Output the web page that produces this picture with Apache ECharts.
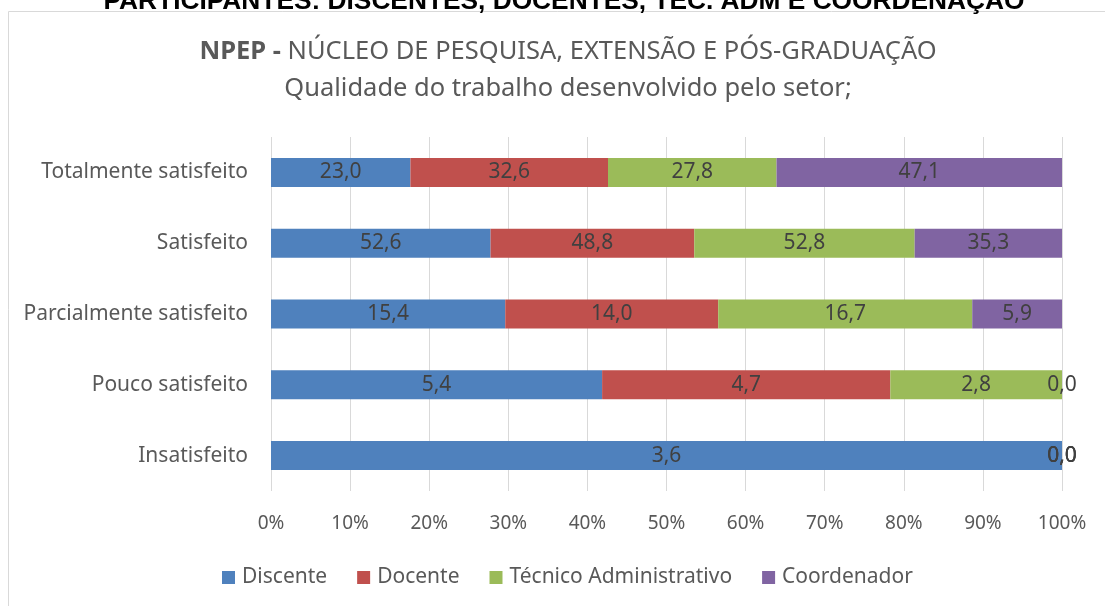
<!DOCTYPE html>
<html>
<head>
<meta charset="utf-8">
<script src="https://cdn.jsdelivr.net/npm/echarts@6/dist/echarts.min.js"></script>
<style>
  html, body { margin: 0; padding: 0; background: #fff; }
  #chart { width: 1105px; height: 606px; }
</style>
</head>
<body>
<div id="chart"></div>
<script>
const categories = ['Totalmente satisfeito', 'Satisfeito', 'Parcialmente satisfeito', 'Pouco satisfeito', 'Insatisfeito']
const seriesNames = ['Discente', 'Docente', 'Técnico Administrativo', 'Coordenador']
const discente = [23.0, 52.6, 15.4, 5.4, 3.6]
const docente = [32.6, 48.8, 14.0, 4.7, 0.0]
const tecnico = [27.8, 52.8, 16.7, 2.8, 0.0]
const coordenador = [47.1, 35.3, 5.9, 0.0, 0.0]
const tickLabels = ['0%', '10%', '20%', '30%', '40%', '50%', '60%', '70%', '80%', '90%', '100%']

const colors = ['#4f81bd', '#c0504d', '#9bbb59', '#8064a2']
const font = 'Noto Sans'
const raw = [discente, docente, tecnico, coordenador]

// totals per category, bars are drawn as share of the row (100% stacked)
const totals = categories.map((_, i) => raw.reduce((s, arr) => s + arr[i], 0))

const chart = echarts.init(document.getElementById('chart'))

chart.setOption({
  animation: false,
  textStyle: { fontFamily: font },
  graphic: [
    {
      type: 'rect',
      shape: { x: 8.5, y: 11.5, width: 1120, height: 620 },
      style: { fill: 'none', stroke: '#d9d9d9', lineWidth: 1 },
    },
    {
      type: 'text',
      x: 564,
      y: 15,
      style: {
        text: 'PARTICIPANTES: DISCENTES, DOCENTES, TEC. ADM E COORDENAÇÃO',
        font: 'bold 26.3px "Liberation Sans"',
        fill: '#000',
        align: 'center',
        verticalAlign: 'bottom',
      },
    },
  ],
  title: {
    left: 563,
    textAlign: 'center',
    top: 28,
    text: '{b|NPEP -} NÚCLEO DE PESQUISA, EXTENSÃO E PÓS-GRADUAÇÃO\nQualidade do trabalho desenvolvido pelo setor;',
    textStyle: {
      fontFamily: font,
      fontSize: 25.5,
      fontWeight: 'normal',
      color: '#595959',
      lineHeight: 37,
      rich: {
        b: { fontFamily: font, fontSize: 25.5, fontWeight: 'bold', color: '#595959', lineHeight: 37 },
      },
    },
  },
  legend: {
    left: 222,
    top: 567,
    padding: 0,
    itemWidth: 13,
    itemHeight: 13,
    itemGap: 30,
    icon: 'rect',
    data: seriesNames,
    textStyle: { fontFamily: font, fontSize: 21, color: '#595959', padding: [0, 0, 0, 2] },
  },
  grid: {
    left: 271,
    right: 43,
    top: 137,
    bottom: 115,
    containLabel: false,
  },
  xAxis: {
    type: 'value',
    min: 0,
    max: 100,
    interval: 10,
    axisLine: { show: false },
    axisTick: { show: false },
    splitLine: { lineStyle: { color: '#d9d9d9', width: 1 } },
    axisLabel: {
      color: '#595959',
      fontFamily: font,
      fontSize: 19,
      margin: 23,
      formatter: (v) => tickLabels[Math.round(v / 10)],
    },
  },
  yAxis: {
    type: 'category',
    inverse: true,
    data: categories,
    axisLine: { show: false },
    axisTick: { show: false },
    axisLabel: { color: '#595959', fontFamily: font, fontSize: 21, margin: 23 },
  },
  series: seriesNames.map((name, k) => ({
    name,
    type: 'bar',
    stack: 'total',
    barWidth: 29,
    itemStyle: { color: colors[k] },
    label: {
      show: true,
      position: 'inside',
      color: '#404040',
      fontFamily: font,
      fontSize: 21,
      formatter: (p) => raw[k][p.dataIndex].toFixed(1).replace('.', ','),
    },
    data: raw[k].map((v, i) => (v / totals[i]) * 100),
  })),
})
</script>
</body>
</html>
